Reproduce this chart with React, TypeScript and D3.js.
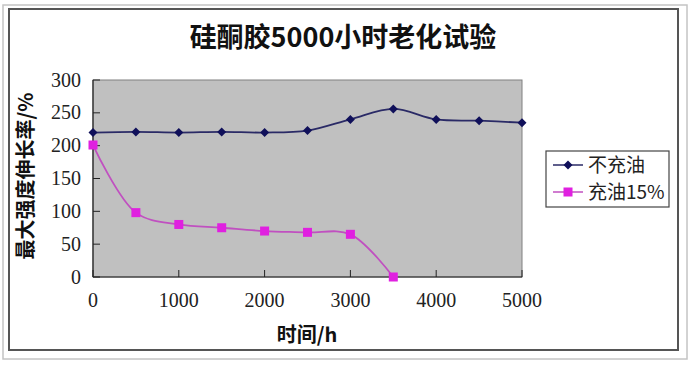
import React from "react";
import * as d3 from "d3";

const title = "硅酮胶5000小时老化试验";
const yTitle = "最大强度伸长率/%";
const xTitle = "时间/h";
const hours = [0, 500, 1000, 1500, 2000, 2500, 3000, 3500, 4000, 4500, 5000];
const noOil = [220, 221, 220, 221, 220, 223, 240, 256, 240, 238, 235];
const oilHours = [0, 500, 1000, 1500, 2000, 2500, 3000, 3500];
const oil15 = [201, 98, 80, 75, 70, 68, 65, 0];
const xTicks = [0, 1000, 2000, 3000, 4000, 5000];
const yTicks = [0, 50, 100, 150, 200, 250, 300];
const seriesNames = ["不充油", "充油15%"];

const W = 694;
const H = 366;
const L = 93, R = 522, T = 80, B = 277;

export default function App() {
  const x = d3.scaleLinear().domain([0, 5000]).range([L, R]);
  const y = d3.scaleLinear().domain([0, 300]).range([B, T]);
  const line = d3
    .line<[number, number]>()
    .x((d) => x(d[0]))
    .y((d) => y(d[1]))
    .curve(d3.curveCatmullRom.alpha(0.5));
  const blueData: [number, number][] = hours.map((h, i) => [h, noOil[i]]);
  const pinkData: [number, number][] = oilHours.map((h, i) => [h, oil15[i]]);
  const serif = "'Liberation Serif', 'DejaVu Serif', serif";
  const cjk = "'Noto Sans CJK SC', sans-serif";
  const blue = "#10105a";
  const blueLine = "#2a2a66";
  const pinkLine = "#c050c0";
  const pink = "#e020e0";
  const diamond = (cx: number, cy: number, key: string | number) => (
    <path key={key} d={`M${cx},${cy - 4.5}L${cx + 4.5},${cy}L${cx},${cy + 4.5}L${cx - 4.5},${cy}Z`} fill={blue} />
  );
  const square = (cx: number, cy: number, key: string | number) => (
    <rect key={key} x={cx - 4.5} y={cy - 4.5} width={9} height={9} fill={pink} />
  );
  return (
    <svg width={W} height={H} style={{ position: "absolute", left: 0, top: 0, background: "#fff" }}>
      <rect x={3} y={5} width={684} height={354} fill="none" stroke="#c4c4c4" strokeWidth={1.5} />
      <rect x={9} y={9} width={669} height={341} fill="#fff" stroke="#555" strokeWidth={2} />
      <text x={343} y={47} textAnchor="middle" fontFamily={cjk} fontWeight="bold" fontSize={27} fill="#111">
        {title}
      </text>
      <rect x={L} y={T} width={R - L} height={B - T} fill="#c0c0c0" stroke="#808080" strokeWidth={1} />
      <line x1={L} y1={T} x2={L} y2={B} stroke="#222" strokeWidth={1.2} />
      <line x1={L} y1={B} x2={R} y2={B} stroke="#222" strokeWidth={1.2} />
      {yTicks.map((t) => (
        <g key={"y" + t}>
          <line x1={L} x2={L + 7} y1={y(t)} y2={y(t)} stroke="#222" />
          <text x={81} y={y(t) + 6.5} textAnchor="end" fontFamily={serif} fontSize={20} fill="#222">
            {t}
          </text>
        </g>
      ))}
      {xTicks.map((t) => (
        <g key={"x" + t}>
          <line x1={x(t)} x2={x(t)} y1={B} y2={B - 7} stroke="#222" />
          <text x={x(t)} y={307} textAnchor="middle" fontFamily={serif} fontSize={20} fill="#222">
            {t}
          </text>
        </g>
      ))}
      <text
        transform={`translate(33,176) rotate(-90)`}
        textAnchor="middle"
        fontFamily={cjk}
        fontWeight="bold"
        fontSize={20}
        fill="#111"
      >
        {yTitle}
      </text>
      <text x={307} y={342} textAnchor="middle" fontFamily={cjk} fontWeight="bold" fontSize={20} fill="#111">
        {xTitle}
      </text>
      <path d={line(blueData) || ""} fill="none" stroke={blueLine} strokeWidth={1.8} />
      <path d={line(pinkData) || ""} fill="none" stroke={pinkLine} strokeWidth={1.8} />
      {blueData.map((d, i) => diamond(x(d[0]), y(d[1]), "b" + i))}
      {pinkData.map((d, i) => square(x(d[0]), y(d[1]), "p" + i))}
      <rect x={546} y={151} width={123} height={56} fill="#fff" stroke="#444" strokeWidth={1.2} />
      <line x1={553} x2={583} y1={165} y2={165} stroke={blueLine} strokeWidth={1.5} />
      {diamond(568, 165, "lb")}
      <text x={588} y={172} fontFamily={cjk} fontSize={19} fill="#222">
        {seriesNames[0]}
      </text>
      <line x1={553} x2={583} y1={192} y2={192} stroke={pinkLine} strokeWidth={1.5} />
      {square(568, 192, "lp")}
      <text x={588} y={199} fontFamily={cjk} fontSize={19} fill="#222">
        {seriesNames[1]}
      </text>
    </svg>
  );
}
